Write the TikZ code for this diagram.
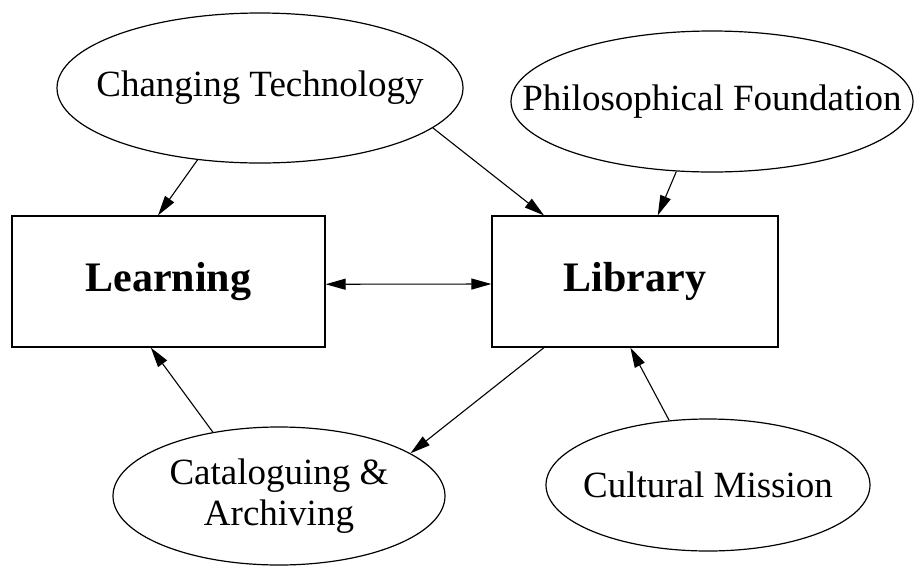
\documentclass[tikz,border=0pt]{standalone}
\usepackage{fontspec}
\setmainfont{Liberation Serif}
\usetikzlibrary{shapes.geometric, arrows.meta}

\newcommand{\tight}[1]{\makebox[0pt]{#1}}

\begin{document}
\begin{tikzpicture}[x=1pt, y=-1pt,
idea/.style={ellipse, draw, line width=1.2pt, inner sep=0pt, align=center, font=\fontsize{37}{41}\selectfont},
block/.style={rectangle, draw, line width=1.2pt, inner sep=0pt, minimum height=131pt, font=\fontsize{42}{50}\selectfont\bfseries},
link/.style={line width=1.1pt, -{Triangle[length=20pt, width=11pt]}}]
\useasboundingbox (0,0) rectangle (914,566);

%Core
\node[block, minimum width=313pt] (learn) at (168.5,281.5) {Learning};
\node[block, minimum width=286pt] (lib) at (635,281.5) {Library};
%Influences
\node[idea, minimum width=406pt, minimum height=150pt] (tech) at (260,88) {\tight{Changing Technology}};
\node[idea, minimum width=402pt, minimum height=141pt] (phil) at (712,101.5) {\tight{Philosophical Foundation}};
\node[idea, minimum width=332pt, minimum height=138pt] (cat) at (279,496) {\tight{Cataloguing \&}\\\tight{Archiving}};
\node[idea, minimum width=324pt, minimum height=132pt] (mission) at (708,485) {\tight{Cultural Mission}};

%Links
\draw[link] (tech.229) -- (learn.99);
\draw[link] (tech.347) -- (lib.144);
\draw[link] (phil.243) -- (lib.71);
\draw[link, {Triangle[length=20pt, width=11pt]}-{Triangle[length=20pt, width=11pt]}] (learn.-1.6) -- (lib.181.8);
\draw[link] (lib.216.4) -- (cat.18.2);
\draw[link] (cat.136.6) -- (learn.255);
\draw[link] (mission.121) -- (lib.266.5);
\end{tikzpicture}
\end{document}
